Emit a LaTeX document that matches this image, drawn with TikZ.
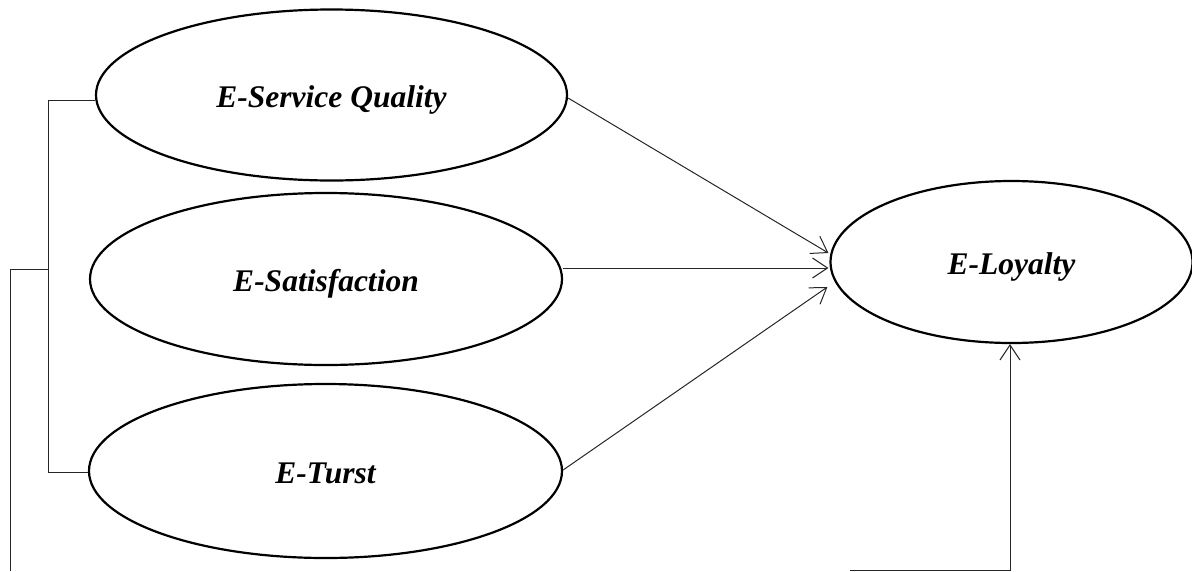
\documentclass[tikz,border=0pt]{standalone}
\usepackage{fontspec}
\setmainfont{Liberation Serif}
\usetikzlibrary{shapes.geometric,arrows.meta,calc}
\begin{document}
\begin{tikzpicture}[x=1pt,y=-1pt,
  construct/.style={ellipse,draw,line width=2.2pt,inner sep=0pt,
    text height=25pt,text depth=0pt,
    font=\fontsize{31.5}{36}\selectfont\bfseries\itshape},
  link/.style={line width=1pt,draw=black!85},
  arr/.style={link,-{Straight Barb[length=15pt,width=20pt,line width=1pt]}}]
\useasboundingbox (0,0) rectangle (1192,571);
\node[construct,minimum width=471pt,minimum height=171pt] (esq) at (331.5,95) {E-Service Quality};
\node[construct,minimum width=472pt,minimum height=172pt] (esat) at (326,279) {E-Satisfaction};
\node[construct,minimum width=473pt,minimum height=174pt] (etr) at (325.5,471) {E-Turst};
\node[construct,minimum width=362pt,minimum height=162pt] (loy) at (1011.5,262) {E-Loyalty};
% bracket
\coordinate (bt) at (48,100);
\coordinate (bb) at (48,472);
\coordinate (bm) at (48,269);
\coordinate (lm) at (10.5,269);
\coordinate (lb) at (10.5,571);
\draw[link] ($(esq.west)+(0,5)$) -- (bt) -- (bb) -- (bb -| etr.west);
\draw[link] (bm) -- (lm) -- (lb);
% arrows
\draw[arr] ($(esq.east)+(0,3)$) -- ($(loy.west)+(-1,-9)$);
\draw[arr] (esat.east |- 0,268) -- ($(loy.west)+(-1,6)$);
\draw[arr] ($(etr.east)+(0,-1)$) -- ($(loy.west)+(-2,25)$);
\coordinate (rb) at (850,570);
\coordinate (rc) at (1010,570);
\draw[arr] (rb) -- (rc) -- (rc |- loy.south);
\end{tikzpicture}
\end{document}
